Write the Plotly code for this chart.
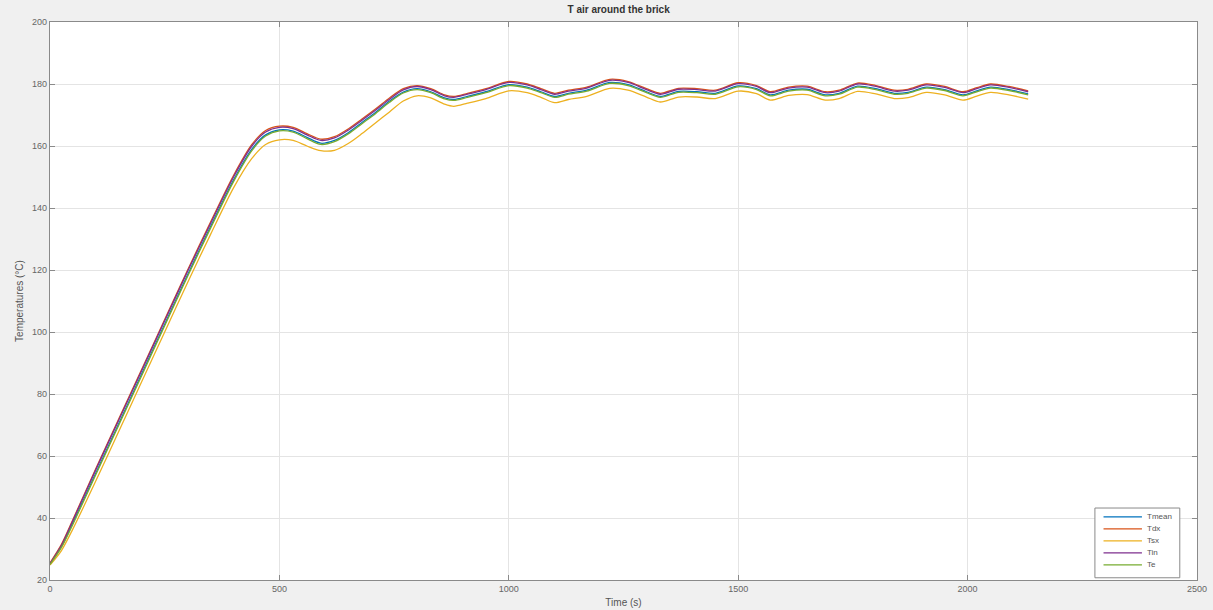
import plotly.graph_objects as go

# Sampling instants (s)
time_s = [0, 25, 50, 100, 150, 200, 250, 300, 350, 400, 440, 470, 500, 530, 560, 590,
          620, 650, 680, 710, 740, 770, 800, 830, 860, 880, 910, 950, 1000, 1040, 1070,
          1100, 1130, 1170, 1220, 1260, 1300, 1330, 1370, 1410, 1450, 1500, 1540, 1570,
          1610, 1650, 1690, 1720, 1760, 1800, 1840, 1870, 1910, 1950, 1990, 2020, 2050,
          2090, 2132]

# Air temperatures around the brick (degC)
t_mean = [25.2, 30.8, 38.5, 54.5, 70.5, 86.5, 102.5, 118.5, 134.0, 149.0, 159.0, 163.6,
          165.2, 164.8, 162.8, 160.9, 161.8, 164.3, 167.6, 170.9, 174.5, 177.4, 178.5,
          177.5, 175.5, 175.0, 176.0, 177.5, 179.8, 179.0, 177.5, 176.0, 177.0, 178.0,
          180.5, 179.8, 177.5, 176.0, 177.6, 177.5, 177.0, 179.4, 178.5, 176.5, 178.0,
          178.3, 176.5, 177.0, 179.3, 178.5, 177.0, 177.3, 179.0, 178.2, 176.5, 177.8,
          179.0, 178.2, 176.8]
t_dx = [25.5, 31.5, 39.5, 56.0, 72.0, 88.0, 104.0, 120.0, 135.5, 150.5, 160.5, 165.0,
        166.4, 166.0, 164.0, 162.2, 163.0, 165.5, 168.7, 172.0, 175.5, 178.5, 179.5,
        178.5, 176.5, 176.0, 177.0, 178.5, 180.8, 180.0, 178.5, 177.0, 178.0, 179.0,
        181.5, 180.8, 178.5, 177.0, 178.6, 178.5, 178.0, 180.4, 179.5, 177.5, 179.0,
        179.3, 177.5, 178.0, 180.3, 179.5, 178.0, 178.3, 180.0, 179.2, 177.5, 178.8,
        180.0, 179.2, 177.8]
t_sx = [24.8, 29.5, 36.5, 52.0, 68.0, 84.0, 100.0, 116.0, 131.5, 146.5, 156.0, 160.5,
        162.0, 161.8, 160.0, 158.5, 158.6, 160.8, 164.0, 167.5, 171.0, 174.5, 176.2,
        175.5, 173.5, 172.8, 173.8, 175.3, 177.8, 177.2, 175.7, 174.0, 175.0, 176.0,
        178.6, 178.0, 175.8, 174.2, 175.8, 175.8, 175.3, 177.7, 176.9, 174.8, 176.3,
        176.6, 174.8, 175.3, 177.6, 176.8, 175.3, 175.6, 177.3, 176.5, 174.8, 176.1,
        177.3, 176.5, 175.1]
t_in = [25.3, 31.2, 39.2, 55.6, 71.6, 87.6, 103.6, 119.6, 135.0, 150.0, 160.0, 164.5,
        166.0, 165.6, 163.6, 161.8, 162.6, 165.1, 168.3, 171.6, 175.1, 178.1, 179.2,
        178.2, 176.2, 175.7, 176.7, 178.2, 180.5, 179.7, 178.2, 176.7, 177.7, 178.7,
        181.2, 180.5, 178.2, 176.7, 178.3, 178.2, 177.7, 180.1, 179.2, 177.2, 178.7,
        179.0, 177.2, 177.7, 180.0, 179.2, 177.7, 178.0, 179.7, 178.9, 177.2, 178.5,
        179.7, 178.9, 177.5]
t_e = [25.0, 30.5, 38.0, 54.0, 70.0, 86.0, 102.0, 118.0, 133.5, 148.5, 158.5, 163.2,
       164.9, 164.5, 162.4, 160.5, 161.4, 163.9, 167.2, 170.5, 174.1, 177.1, 178.2,
       177.2, 175.2, 174.7, 175.7, 177.2, 179.5, 178.7, 177.2, 175.7, 176.7, 177.7,
       180.2, 179.5, 177.2, 175.7, 177.3, 177.2, 176.7, 179.1, 178.2, 176.2, 177.7,
       178.0, 176.2, 176.7, 179.0, 178.2, 176.7, 177.0, 178.7, 177.9, 176.2, 177.5,
       178.7, 177.9, 176.5]

series_names = ["Tmean", "Tdx", "Tsx", "Tin", "Te"]
series_values = [t_mean, t_dx, t_sx, t_in, t_e]
series_colors = ["#0072BD", "#D95319", "#EDB120", "#7E2F8E", "#77AC30"]

x_ticks = [0, 500, 1000, 1500, 2000, 2500]
y_ticks = [20, 40, 60, 80, 100, 120, 140, 160, 180, 200]

FONT = "Liberation Sans, Arial, sans-serif"
AXIS_GREY = "#8a8a8a"

fig = go.Figure()
for name, vals, col in zip(series_names, series_values, series_colors):
    fig.add_trace(go.Scatter(
        x=time_s, y=vals, name=name, mode="lines", showlegend=False,
        line=dict(color=col, width=1.3, shape="spline", smoothing=0.8),
    ))

# Compact boxed legend in the lower-right corner of the axes (paper coordinates)
box_x0, box_x1, box_y0, box_y1 = 0.911, 0.985, 0.004, 0.129
sample_x0, sample_x1, label_x = 0.9185, 0.952, 0.955
row_top, row_step = 0.113, 0.0215
shapes = [dict(type="rect", xref="paper", yref="paper",
               x0=box_x0, x1=box_x1, y0=box_y0, y1=box_y1,
               fillcolor="#ffffff", line=dict(color=AXIS_GREY, width=1), layer="above")]
annotations = []
for i, (name, col) in enumerate(zip(series_names, series_colors)):
    ry = row_top - i * row_step
    shapes.append(dict(type="line", xref="paper", yref="paper",
                       x0=sample_x0, x1=sample_x1, y0=ry, y1=ry,
                       line=dict(color=col, width=1.3), layer="above"))
    annotations.append(dict(xref="paper", yref="paper", x=label_x, y=ry,
                            xanchor="left", yanchor="middle", showarrow=False,
                            text=name, font=dict(family=FONT, size=8, color="#555555")))

axis_common = dict(
    showline=True, linecolor=AXIS_GREY, linewidth=1.2, mirror="ticks",
    ticks="inside", ticklen=5, tickcolor=AXIS_GREY, automargin=False,
    showgrid=True, gridcolor="#e4e4e4", gridwidth=1,
    zeroline=False, tickfont=dict(family=FONT, size=9, color="#666666"),
)

fig.update_xaxes(range=[0, 2500], tickvals=x_ticks,
                 title=dict(text="Time (s)", font=dict(family=FONT, size=10, color="#555555"),
                            standoff=6),
                 **axis_common)
fig.update_yaxes(range=[20, 200], tickvals=y_ticks,
                 title=dict(text="Temperatures (°C)", font=dict(family=FONT, size=10, color="#555555"),
                            standoff=6),
                 **axis_common)

fig.update_layout(
    width=1213, height=610,
    margin=dict(l=50, r=16, t=22, b=30),
    paper_bgcolor="#f0f0f0", plot_bgcolor="#ffffff",
    title=dict(text="<b>T air around the brick</b>", x=0.51, xanchor="center",
               y=0.984, yanchor="middle", yref="container",
               font=dict(family=FONT, size=10, color="#333333")),
    shapes=shapes, annotations=annotations,
    showlegend=False,
)

fig.write_html("out.html")
